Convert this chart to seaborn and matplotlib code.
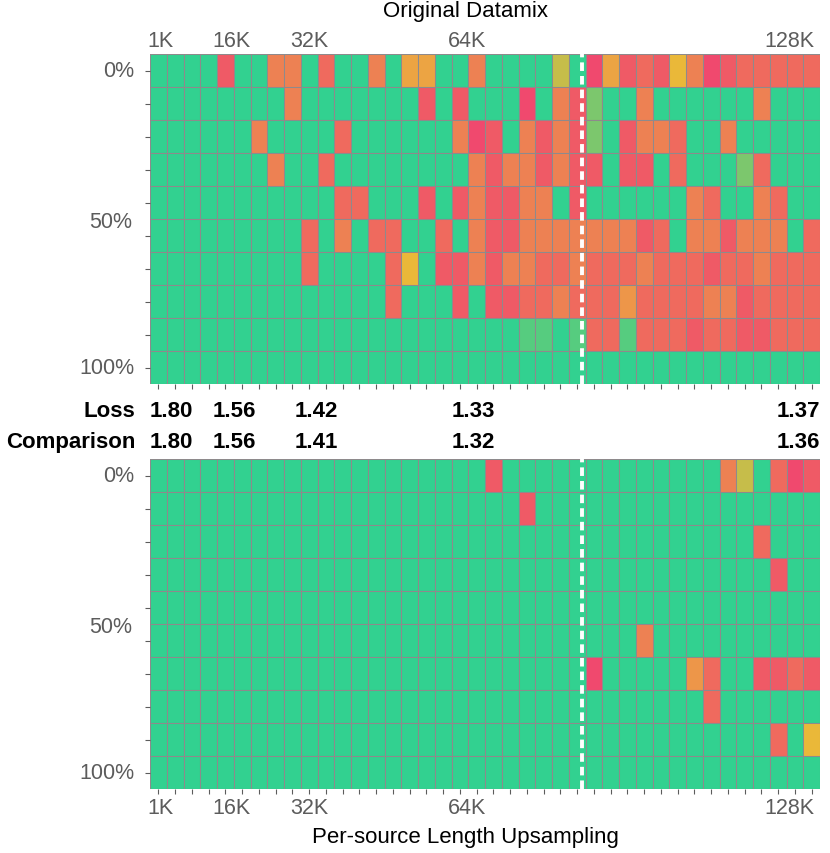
import numpy as np
import pandas as pd
import matplotlib
matplotlib.use('Agg')
import matplotlib.pyplot as plt
from matplotlib.colors import LinearSegmentedColormap
from matplotlib.transforms import blended_transform_factory
import seaborn as sns

plt.rcParams['font.family'] = ['Liberation Sans', 'DejaVu Sans']

# cell code -> score (0 = pink/red, 5 = yellow, 10 = green)
score = {'P': 0, 'R': 0.8, 'S': 1.5, 'O': 2.5, 'o': 3.5, 'A': 4.1,
         'Y': 5, 'V': 6, 'L': 8, 'M': 9, 'G': 10}

# one string per depth row, 40 context lengths each
original = [
    'GGGGRGGOOGSGGOGAAGGO' 'GGGGVGPARSRYOPRSSSSS',
    'GGGGGGGGOGGGGGGGRGRG' 'GGPGORLGGOGGGGGGOGGG',
    'GGGGGGOGGGGSGGGGGGOP' 'RGORORLGROOSGGOGGGGG',
    'GGGGGGGOGGSGGGGGGGGO' 'ROORORRGRRGSGGGLSGGG',
    'GGGGGGGGGGGSSGGGRGRO' 'RROOGRGGGGGGOSGGOSGG',
    'GGGGGGGGGSGOGSSGGSGO' 'RROOOOOOORSGOOROOOGS',
    'GGGGGGGGGSGGGGSYGRRO' 'ROOSSOSSSOSSSRSSOSSS',
    'GGGGGGGGGGGGGGSGGGRG' 'RRSSOSSSoSSSSOORSSSS',
    'GGGGGGGGGGGGGGGGGGGG' 'GGMMGMSSMSSSRSSRRSSS',
    'GGGGGGGGGGGGGGGGGGGG' 'GGGGGGGGGGGGGGGGGGGG',
]
upsampled = [
    'GGGGGGGGGGGGGGGGGGGG' 'RGGGGGGGGGGGGGOVGSPR',
    'GGGGGGGGGGGGGGGGGGGG' 'GGRGGGGGGGGGGGGGGGGG',
    'GGGGGGGGGGGGGGGGGGGG' 'GGGGGGGGGGGGGGGGSGGG',
    'GGGGGGGGGGGGGGGGGGGG' 'GGGGGGGGGGGGGGGGGRGG',
    'GGGGGGGGGGGGGGGGGGGG' 'GGGGGGGGGGGGGGGGGGGG',
    'GGGGGGGGGGGGGGGGGGGG' 'GGGGGGGGGOGGGGGGGGGG',
    'GGGGGGGGGGGGGGGGGGGG' 'GGGGGGPGGGGGoSGGRRSR',
    'GGGGGGGGGGGGGGGGGGGG' 'GGGGGGGGGGGGGSGGGGGG',
    'GGGGGGGGGGGGGGGGGGGG' 'GGGGGGGGGGGGGGGGGSGY',
    'GGGGGGGGGGGGGGGGGGGG' 'GGGGGGGGGGGGGGGGGGGG',
]

depth_labels = ['0%', '50%', '100%']
length_labels = ['1K', '16K', '32K', '64K', '128K']
loss_original = [1.80, 1.56, 1.42, 1.33, 1.37]
loss_upsampled = [1.80, 1.56, 1.41, 1.32, 1.36]

# positions in heatmap column units
length_pos = [0.6, 4.86, 9.54, 18.9, 38.2]
loss_pos = [0.0, 3.76, 8.65, 18.0, 37.4]
train_len_pos = 25.8

cmap = LinearSegmentedColormap.from_list('niah', ['#F0496E', '#EBB839', '#32D190'])
gray = '#5c5c5c'


def to_frame(rows):
    for r in rows:
        assert len(r) == 40, r
    return pd.DataFrame([[score[c] for c in r] for r in rows])


def draw(ax, rows, top_labels):
    grid = to_frame(rows)
    n_rows, n_cols = grid.shape
    sns.heatmap(grid, ax=ax, cmap=cmap, vmin=0, vmax=10, cbar=False,
                linewidths=0.75, linecolor='#8e8a8c', antialiased=True)
    ax.axvline(train_len_pos, color='white', lw=2.8, ls=(0, (2.2, 1.3)))

    # depth axis
    ax.yaxis.remove_overlapping_locs = False
    ax.set_yticks(np.arange(n_rows) + 0.5,
                  labels=[depth_labels[0]] + [''] * (n_rows - 2) + [depth_labels[2]])
    ax.set_yticks([n_rows / 2], labels=[depth_labels[1]], minor=True)
    ax.tick_params(axis='y', which='major', left=True, length=3.5, width=0.8,
                   color=gray, pad=8, labelsize=15.5, labelcolor=gray, rotation=0)
    ax.tick_params(axis='y', which='minor', left=True, length=0, pad=12.5,
                   labelsize=15.5, labelcolor=gray)

    # length axis
    ax.xaxis.remove_overlapping_locs = False
    ax.set_xticks(length_pos, labels=length_labels)
    ax.set_xticks(np.arange(n_cols) + 0.5, minor=True)
    if top_labels:
        ax.tick_params(axis='x', which='major', bottom=False, labelbottom=False,
                       top=False, labeltop=True, length=0, pad=2.5,
                       labelsize=15.5, labelcolor=gray, rotation=0)
    else:
        ax.tick_params(axis='x', which='major', bottom=True, labelbottom=True,
                       top=False, labeltop=False, length=0, pad=6,
                       labelsize=15.5, labelcolor=gray, rotation=0)
    ax.tick_params(axis='x', which='minor', bottom=True, top=False,
                   length=3.5, width=0.8, color=gray)
    ax.set_xlabel('')
    ax.set_ylabel('')


W, H = 830, 854
fig = plt.figure(figsize=(W / 100, H / 100), dpi=100)
ax1 = fig.add_axes([150 / W, 1 - 385 / H, 670 / W, 330 / H])
ax2 = fig.add_axes([150 / W, 1 - 790 / H, 670 / W, 330 / H])

draw(ax1, original, top_labels=True)
draw(ax2, upsampled, top_labels=False)

fig.text(465 / W, 1 - 17 / H, 'Original Datamix', ha='center', va='baseline', fontsize=16)
fig.text(465 / W, 1 - 843 / H, 'Per-source Length Upsampling', ha='center',
         va='baseline', fontsize=16)

# loss comparison rows
fig.text(135 / W, 1 - 417 / H, 'Loss', ha='right', va='baseline',
         fontsize=16, fontweight='bold')
fig.text(135 / W, 1 - 448 / H, 'Comparison', ha='right', va='baseline',
         fontsize=16, fontweight='bold')
trans = blended_transform_factory(ax1.transData, fig.transFigure)
for x, a, b in zip(loss_pos, loss_original, loss_upsampled):
    ax1.text(x, 1 - 417 / H, f'{a:.2f}', transform=trans, ha='left', va='baseline',
             fontsize=16, fontweight='bold', clip_on=False)
    ax1.text(x, 1 - 448 / H, f'{b:.2f}', transform=trans, ha='left', va='baseline',
             fontsize=16, fontweight='bold', clip_on=False)

fig.savefig('out.png', dpi=100, facecolor='white')
